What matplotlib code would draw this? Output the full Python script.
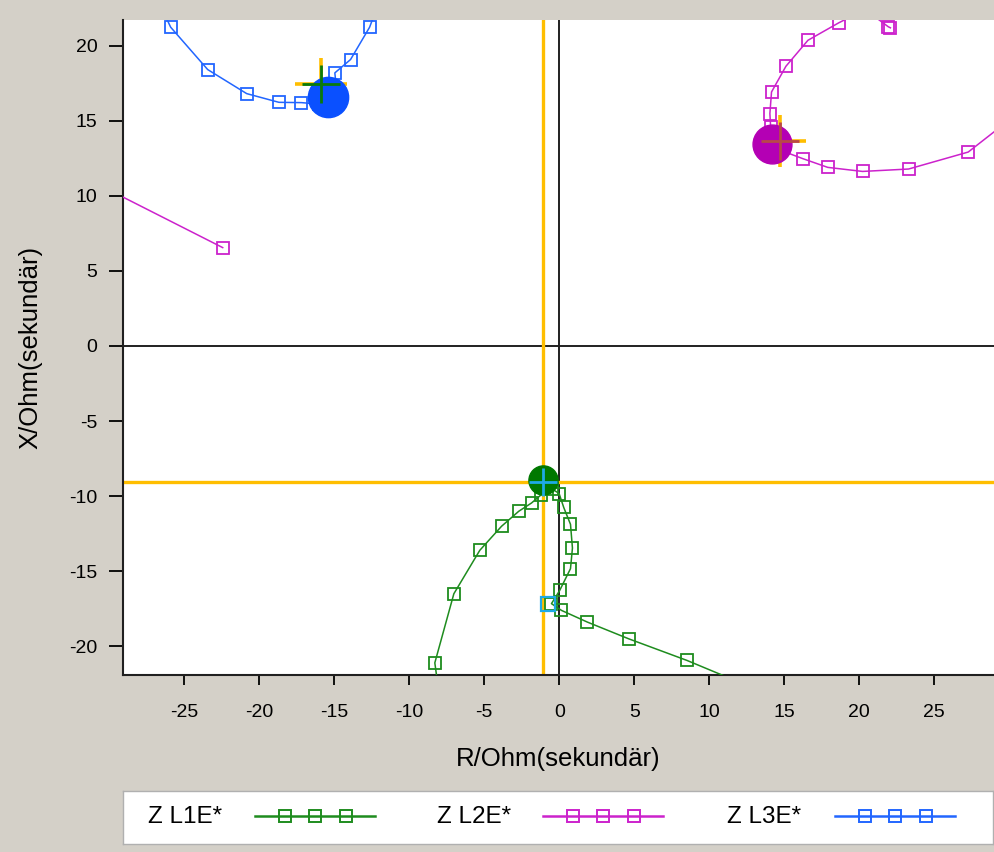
import numpy as np
import matplotlib.pyplot as plt

plt.rcParams['font.family'] = ['Liberation Sans', 'DejaVu Sans']
plt.rcParams['axes.unicode_minus'] = False

# impedance trajectories, R / X in ohm (secondary)
l1_r = [-7.9, -8.3, -7.03, -5.3, -3.85, -2.7, -1.85, -1.2, -0.5, -0.01, 0.3, 0.75, 0.88, 0.75, 0.03,
        -0.52, 0.15, 1.88, 4.63, 8.52, 13.5]
l1_x = [-24.0, -21.09, -16.49, -13.6, -12.0, -11.0, -10.45, -9.9, -9.5, -9.82, -10.75, -11.87, -13.45,
        -14.82, -16.27, -17.15, -17.6, -18.38, -19.49, -20.93, -23.0]

l2_r = [-36.0, -22.45, np.nan, 22.09, 21.95, 20.4, 18.64, 16.59, 15.12, 14.16, 14.05, 14.1, 14.3,
        16.25, 17.91, 20.23, 23.3, 27.28, 31.5]
l2_x = [13.4, 6.55, np.nan, 21.18, 21.25, 22.4, 21.51, 20.35, 18.62, 16.91, 15.47, 14.6, 13.2,
        12.47, 11.89, 11.62, 11.78, 12.91, 16.2]

l3_r = [-27.0, -25.92, -23.45, -20.85, -18.7, -17.2, -16.0, -15.2, -14.8, -14.97, -13.92, -12.65, -11.8]
l3_x = [23.5, 21.22, 18.4, 16.8, 16.22, 16.2, 16.1, 16.0, 16.6, 18.18, 19.07, 21.22, 23.5]

# fault points (L1, L2, L3)
fault_r = [-1.1, 14.2, -15.4]
fault_x = [-8.95, 13.45, 16.6]
cross_r = [-1.1, 14.73, -15.9]
cross_x = [-9.05, 13.67, 17.45]

cursor_r = -1.1
cursor_x = -9.05
marker2_r = -0.75
marker2_x = -17.2

names = ['Z L1E*', 'Z L2E*', 'Z L3E*']
line_cols = ['#1E8C1E', '#CC22CC', '#2266FF']
blob_cols = ['#007800', '#B400B4', '#0A50FF']
inner_cols = ['#1EAAE6', '#B84848', '#0A7A0A']
blob_sizes = [21, 28, 29]

fig = plt.figure(figsize=(9.94, 8.52), dpi=100, facecolor='#D4D0C8')
ax = fig.add_axes([123 / 994, 177 / 852, 871 / 994, 655 / 852])
ax.set_facecolor('white')

ax.axhline(0, color='#202020', lw=1.4, zorder=1)
ax.axvline(0, color='#202020', lw=1.4, zorder=1)
ax.axvline(cursor_r, color='#FFBE00', lw=2.4, zorder=2)
ax.axhline(cursor_x, color='#FFBE00', lw=2.4, zorder=2)

series = [(l1_r, l1_x), (l2_r, l2_x), (l3_r, l3_x)]
for (r, x), c in zip(series, line_cols):
    ax.plot(r, x, color=c, lw=1.1, marker='s', ms=9, mfc='none', mec=c, mew=1.3, zorder=3)

ax.plot(marker2_r, marker2_x, marker='s', ms=10, mfc='none', mec='#1EAAE6', mew=1.6, zorder=4)

for i in range(3):
    if i > 0:
        ax.plot(cross_r[i], cross_x[i], marker='+', ms=38, mew=2.6, color='#FFBE00', zorder=4)
    ax.plot(fault_r[i], fault_x[i], marker='o', ms=blob_sizes[i], color=blob_cols[i], mec=blob_cols[i], zorder=5)
    ax.plot(cross_r[i], cross_x[i], marker='+', ms=blob_sizes[i] - 1, mew=2.0, color=inner_cols[i], zorder=6)

ax.set_xlim(-29.1, 29.0)
ax.set_ylim(-21.9, 21.7)
ax.set_xticks(np.arange(-25, 26, 5))
ax.set_yticks(np.arange(-20, 21, 5))

for s in ['top', 'right']:
    ax.spines[s].set_visible(False)
for s in ['left', 'bottom']:
    ax.spines[s].set_linewidth(1.5)
    ax.spines[s].set_color('#202020')

ax.tick_params(axis='x', direction='out', length=7, width=1.3, pad=14, labelsize=14)
ax.tick_params(axis='y', direction='out', length=10, width=1.3, pad=8.5, labelsize=14)

ax.set_xlabel('R/Ohm(sekundär)', fontsize=18.5)
ax.set_ylabel('X/Ohm(sekundär)', fontsize=18.5)
ax.xaxis.set_label_coords(0.5, -0.11)
ax.yaxis.set_label_coords(-0.092, 0.5)

# legend strip
lax = fig.add_axes([123 / 994, 8 / 852, 870 / 994, 53 / 852])
lax.set_xlim(0, 870)
lax.set_ylim(53, 0)
lax.set_xticks([])
lax.set_yticks([])
for s in lax.spines.values():
    s.set_color('#B0B0B0')
    s.set_linewidth(1.0)

text_x = [25, 314, 604]
line_x0 = [132, 420, 712]
for i in range(3):
    lax.text(text_x[i], 26, names[i], fontsize=17.5, va='center', ha='left')
    x0 = line_x0[i]
    lax.plot([x0, x0 + 120], [25, 25], color=line_cols[i], lw=1.8)
    lax.plot([x0 + 30, x0 + 60, x0 + 91], [25, 25, 25], ls='none', marker='s', ms=9,
             mfc='none', mec=line_cols[i], mew=1.4)

fig.savefig('out.png', dpi=100, facecolor=fig.get_facecolor())
